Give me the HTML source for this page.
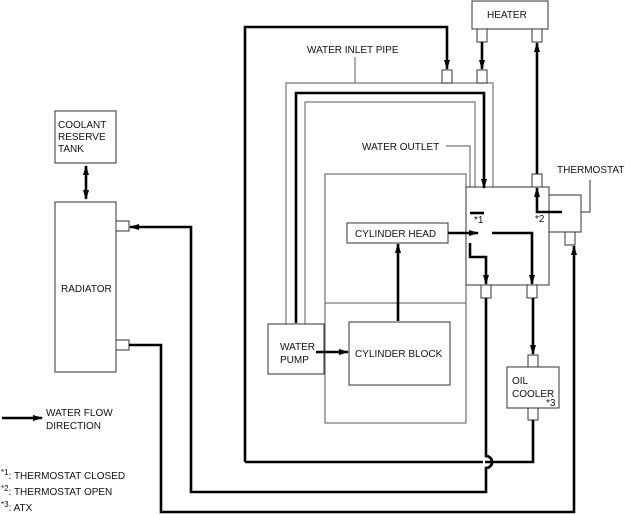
<!DOCTYPE html>
<html><head><meta charset="utf-8"><style>
html,body{margin:0;padding:0;background:#fff;width:625px;height:515px;overflow:hidden}
svg{display:block}
text{font-family:"Liberation Sans",sans-serif;font-size:10px;fill:#111}
</style></head><body>
<svg width="625" height="515" viewBox="0 0 625 515" xmlns="http://www.w3.org/2000/svg">
<defs>
<marker id="a" markerWidth="10" markerHeight="8" refX="9" refY="4" orient="auto" markerUnits="userSpaceOnUse"><path d="M0,1 L10,4 L0,7 Z" fill="#000"/></marker>
<marker id="b" markerWidth="10" markerHeight="8" refX="1" refY="4" orient="auto" markerUnits="userSpaceOnUse"><path d="M10,1 L0,4 L10,7 Z" fill="#000"/></marker>
</defs>
<g fill="none" stroke="#777" stroke-width="1.2">
<path d="M286,324 V83 H493 V187"/>
<path d="M305,324 V102 H475 V187"/>
<path d="M325,303 H466"/>
<path d="M355,57 V83"/>
<path d="M446,146 H470 V187"/>
</g>
<g fill="#fff" stroke="#333" stroke-width="1">
<rect x="55" y="111" width="61" height="52"/>
<rect x="55" y="202" width="61" height="170"/>
<rect x="116" y="221" width="13" height="10"/>
<rect x="116" y="340" width="13" height="10"/>
<rect x="472" y="1" width="76" height="28"/>
<rect x="477" y="29" width="10" height="13"/>
<rect x="532" y="29" width="10" height="13"/>
<rect x="442" y="70" width="10" height="13"/>
<rect x="477" y="70" width="10" height="13"/>
<rect x="325" y="174" width="141" height="249" fill="none" stroke="#555"/>
<rect x="466" y="187" width="83" height="98"/>
<rect x="549" y="195" width="32" height="37"/>
<rect x="565" y="232" width="10" height="13"/>
<rect x="532" y="174" width="10" height="13"/>
<rect x="481" y="285" width="10" height="13"/>
<rect x="527" y="285" width="10" height="13"/>
<rect x="347" y="223" width="101" height="20"/>
<rect x="349" y="322" width="101" height="63"/>
<rect x="268" y="324" width="56" height="50"/>
<rect x="507" y="367" width="52" height="41"/>
<rect x="528" y="355" width="10" height="12"/>
<rect x="528" y="408" width="10" height="12"/>
</g>
<path d="M581,212 H590 V180" fill="none" stroke="#333"/>
<g fill="none" stroke="#000" stroke-width="2.6">
<path d="M86,166 V199" marker-start="url(#b)" marker-end="url(#a)"/>
<path d="M245,462 V27 H447 V69" marker-end="url(#a)"/>
<path d="M245,462 H533 V420"/>
<path d="M296,323 V93 H484 V188" marker-end="url(#a)"/>
<path d="M482,42 V69" marker-end="url(#a)"/>
<path d="M470,213 H484"/>
<path d="M562,212 H537 V188" marker-end="url(#a)"/>
<path d="M537,174 V43" marker-end="url(#a)"/>
<path d="M448,233 H478" marker-end="url(#a)"/>
<path d="M492,233 H532 V284" marker-end="url(#a)"/>
<path d="M470,243 V257 H486 V284" marker-end="url(#a)"/>
<path d="M533,298 V354" marker-end="url(#a)"/>
<path d="M486,298 V456 A6,6 0 0 1 486,468 V492 H191 V227 H130" marker-end="url(#a)"/>
<path d="M129,345 H161 V512 H574 V246" marker-end="url(#a)"/>
<path d="M398,321 V244" marker-end="url(#a)"/>
<path d="M316,352 H348" marker-end="url(#a)"/>
<path d="M2,418 H42" marker-end="url(#a)"/>
</g>
<rect x="483" y="459" width="2" height="6" fill="#fff"/>
<path d="M486,456 A6,6 0 0 1 486,468" fill="none" stroke="#000" stroke-width="2.6"/>
<text x="58" y="128">COOLANT</text>
<text x="58" y="140">RESERVE</text>
<text x="58" y="152">TANK</text>
<text x="61" y="292">RADIATOR</text>
<text x="487" y="18">HEATER</text>
<text x="307" y="53">WATER INLET PIPE</text>
<text x="362" y="150">WATER OUTLET</text>
<text x="557" y="173">THERMOSTAT</text>
<text x="355" y="237">CYLINDER HEAD</text>
<text x="355" y="357">CYLINDER BLOCK</text>
<text x="280" y="350">WATER</text>
<text x="280" y="363">PUMP</text>
<text x="512" y="384">OIL</text>
<text x="512" y="397">COOLER</text>
<text x="546" y="406" font-size="9">*3</text>
<text x="474" y="223" font-size="9">*1</text>
<text x="535" y="222" font-size="9">*2</text>
<text x="46" y="416">WATER FLOW</text>
<text x="46" y="429">DIRECTION</text>
<text x="1" y="479"><tspan font-size="8" dy="-4">*1</tspan><tspan dy="4">: THERMOSTAT CLOSED</tspan></text>
<text x="1" y="495"><tspan font-size="8" dy="-4">*2</tspan><tspan dy="4">: THERMOSTAT OPEN</tspan></text>
<text x="1" y="511"><tspan font-size="8" dy="-4">*3</tspan><tspan dy="4">: ATX</tspan></text>
</svg>
</body></html>
